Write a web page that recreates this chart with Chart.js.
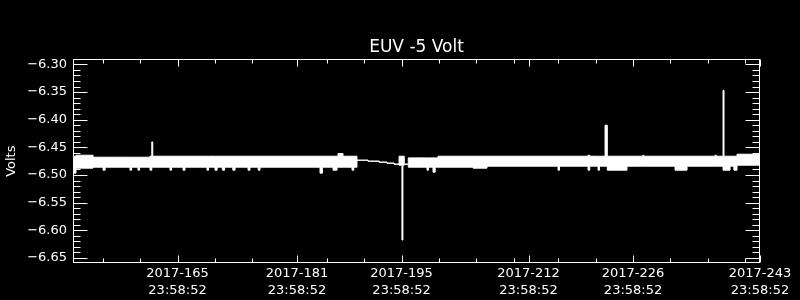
<!DOCTYPE html>
<html>
<head>
<meta charset="utf-8">
<script src="https://cdn.jsdelivr.net/npm/chart.js@4"></script>
<style>
  body { margin: 0; background: #000; }
  #wrap { width: 800px; height: 300px; }
</style>
</head>
<body>
<div id="wrap"><canvas id="myChart"></canvas></div>
<script>
// day of year 2017 (fractional), band upper / lower edge in volts
// each point holds until the next one (stepped)
const times = [152.00, 152.40, 154.68, 156.02, 156.30, 159.63, 159.85, 160.70, 160.90, 162.31,
  162.55, 162.68, 164.99, 165.20, 166.73, 167.00, 169.94, 170.15, 171.02, 171.30,
  172.00, 172.30, 173.40, 173.70, 175.44, 175.70, 176.80, 177.04, 185.08, 185.40,
  186.82, 187.36, 187.49, 188.16, 189.36, 189.60, 190.03, 191.50, 193.00, 194.05,
  195.00, 195.66, 196.05, 196.18, 196.36, 196.90, 199.41, 199.60, 200.21, 200.50,
  200.88, 205.57, 207.44, 216.95, 217.15, 220.97, 221.20, 222.31, 222.50, 223.25,
  223.55, 226.19, 228.30, 228.45, 232.62, 234.23, 237.97, 238.15, 239.05, 239.18,
  239.99, 240.50, 240.92, 244.00]
const bandHigh = [-6.4660, -6.4642, -6.4678, -6.4678, -6.4678, -6.4678, -6.4678, -6.4678, -6.4678, -6.4660,
  -6.4402, -6.4660, -6.4660, -6.4660, -6.4660, -6.4660, -6.4660, -6.4660, -6.4660, -6.4660,
  -6.4660, -6.4660, -6.4660, -6.4660, -6.4660, -6.4660, -6.4660, -6.4660, -6.4660, -6.4660,
  -6.4660, -6.4660, -6.4611, -6.4660, -6.4660, -6.4660, -6.4732, -6.4750, -6.4768, -6.4786,
  -6.4804, -6.4660, -6.4660, -6.4660, -6.4804, -6.4690, -6.4690, -6.4690, -6.4690, -6.4690,
  -6.4660, -6.4660, -6.4660, -6.4660, -6.4660, -6.4642, -6.4660, -6.4660, -6.4660, -6.4100,
  -6.4660, -6.4660, -6.4642, -6.4660, -6.4660, -6.4660, -6.4642, -6.4660, -6.3469, -6.4660,
  -6.4660, -6.4660, -6.4624, -6.4624]
const bandLow = [-6.4966, -6.4876, -6.4858, -6.4912, -6.4858, -6.4912, -6.4858, -6.4912, -6.4858, -6.4912,
  -6.4858, -6.4858, -6.4912, -6.4858, -6.4912, -6.4858, -6.4912, -6.4858, -6.4912, -6.4858,
  -6.4912, -6.4858, -6.4912, -6.4858, -6.4912, -6.4858, -6.4912, -6.4858, -6.4966, -6.4858,
  -6.4912, -6.4858, -6.4858, -6.4858, -6.4912, -6.4858, -6.4732, -6.4750, -6.4768, -6.4786,
  -6.4804, -6.4822, -6.6175, -6.4822, -6.4804, -6.4858, -6.4912, -6.4858, -6.4948, -6.4858,
  -6.4858, -6.4876, -6.4840, -6.4912, -6.4840, -6.4912, -6.4840, -6.4912, -6.4840, -6.4840,
  -6.4912, -6.4840, -6.4840, -6.4840, -6.4912, -6.4840, -6.4840, -6.4840, -6.4912, -6.4912,
  -6.4840, -6.4912, -6.4822, -6.4822]

const xMin = 151.9992
const xMax = 243.9992
const xMajor = [165.9992, 181.9992, 195.9992, 212.9992, 226.9992, 243.9992]
const xLabels = [["2017-165", "23:58:52"], ["2017-181", "23:58:52"], ["2017-195", "23:58:52"],
  ["2017-212", "23:58:52"], ["2017-226", "23:58:52"], ["2017-243", "23:58:52"]]
const xMinor = [156, 161, 171, 176, 186, 191, 201, 206, 211, 217, 222, 232, 237, 242]
const yMajor = [-6.30, -6.35, -6.40, -6.45, -6.50, -6.55, -6.60, -6.65]
const yMin = -6.659
const yMax = -6.291

const FONT = "'DejaVu Sans', sans-serif"

// IDL style box with inward ticks on all four sides
const idlAxes = {
  id: 'idlAxes',
  afterDraw(chart) {
    const ctx = chart.ctx
    const a = chart.chartArea
    const x = chart.scales.x
    const y = chart.scales.y
    const L = Math.round(a.left) + 0.5
    const R = Math.round(a.right) - 0.5
    const T = Math.round(a.top) + 0.5
    const B = Math.round(a.bottom) - 0.5
    ctx.save()
    ctx.strokeStyle = '#fff'
    ctx.lineWidth = 1
    ctx.strokeRect(L, T, R - L, B - T)
    ctx.beginPath()
    function seg(x1, y1, x2, y2){ ctx.moveTo(x1, y1); ctx.lineTo(x2, y2) }
    xMajor.forEach(v => {
      const p = Math.round(x.getPixelForValue(v)) + 0.5
      seg(p, B, p, B - 7); seg(p, T, p, T + 7)
    })
    xMinor.forEach(v => {
      const p = Math.round(x.getPixelForValue(v)) + 0.5
      seg(p, B, p, B - 4); seg(p, T, p, T + 4)
    })
    for (let i = 0; i <= 35; i++) {
      const v = -6.30 - i * 0.01
      const p = Math.round(y.getPixelForValue(v)) + 0.5
      const len = (i % 5 == 0) ? 14 : 7
      seg(L, p, L + len, p); seg(R, p, R - len, p)
    }
    ctx.stroke()
    ctx.restore()
  }
}

new Chart("myChart", {
  type: "line",
  data: {
    datasets: [{
      data: times.map((t, i) => ({x: t, y: bandHigh[i]})),
      borderColor: '#fff',
      borderWidth: 1,
      pointRadius: 0,
      stepped: true,
      fill: false
    }, {
      data: times.map((t, i) => ({x: t, y: bandLow[i]})),
      borderColor: '#fff',
      backgroundColor: '#fff',
      borderWidth: 1,
      pointRadius: 0,
      stepped: true,
      fill: '-1'
    }]
  },
  options: {
    responsive: true,
    maintainAspectRatio: false,
    animation: false,
    layout: {padding: {top: 0, right: 40, bottom: 0, left: 0}},
    plugins: {
      legend: {display: false},
      tooltip: {enabled: false},
      title: {
        display: true,
        text: 'EUV -5 Volt',
        color: '#fff',
        fullSize: false,
        font: {family: FONT, size: 17, weight: 'normal'},
        padding: {top: 37, bottom: 2}
      }
    },
    scales: {
      x: {
        type: 'linear',
        min: xMin,
        max: xMax,
        grid: {display: false, drawTicks: false},
        border: {display: false},
        afterBuildTicks: s => { s.ticks = xMajor.map(v => ({value: v})) },
        afterFit: s => { s.height = 37; s.paddingLeft = 0; s.paddingRight = 0 },
        ticks: {
          color: '#fff',
          maxRotation: 0,
          autoSkip: false,
          padding: 2,
          font: {family: FONT, size: 13, lineHeight: 1.3},
          callback: (v, i) => xLabels[i]
        }
      },
      y: {
        min: yMin,
        max: yMax,
        grid: {display: false, drawTicks: false},
        border: {display: false},
        afterBuildTicks: s => { s.ticks = yMajor.map(v => ({value: v})) },
        afterFit: s => { s.width = 73; s.paddingTop = 0; s.paddingBottom = 0 },
        ticks: {
          color: '#fff',
          padding: 6,
          font: {family: FONT, size: 13},
          callback: v => '\u2212' + Math.abs(v).toFixed(2)
        },
        title: {
          display: true,
          text: 'Volts',
          color: '#fff',
          padding: {top: 4, bottom: 0},
          font: {family: FONT, size: 13}
        }
      }
    }
  },
  plugins: [idlAxes]
})
</script>
</body>
</html>
